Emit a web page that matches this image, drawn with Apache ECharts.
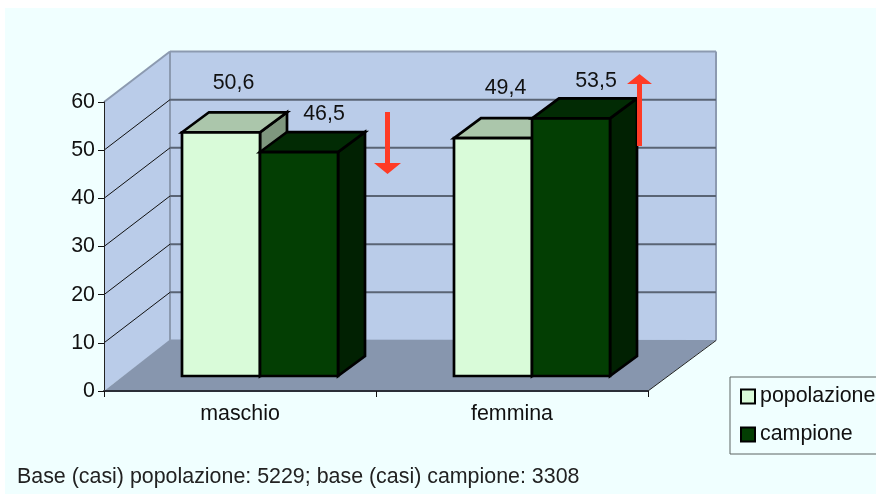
<!DOCTYPE html>
<html><head><meta charset="utf-8">
<style>html,body{margin:0;padding:0;background:#fff}#c{width:876px;height:494px}</style>
<script src="https://cdn.jsdelivr.net/npm/echarts@6/dist/echarts.min.js"></script>
</head><body><div id="c"></div>
<script>
const categories = ['maschio', 'femmina'];
const popolazione = [50.6, 49.4];
const campione = [46.5, 53.5];
const yTicks = [0, 10, 20, 30, 40, 50, 60];
const footnote = 'Base (casi) popolazione: 5229; base (casi) campione: 3308';

const FONT = '"Liberation Sans", Arial, sans-serif';
const FS = 21.4;
const DEPTH = [66, -50.5];    // full depth of the 3D box
const BACK_EXTRA = 2;         // back wall is slightly wider than the axis
const FRONT = [20, -15];      // offset of bars' front from the axis plane
const BAR_D = [27, -20];      // bar depth
const BAR_W = 78;

function poly(points, fill, stroke, lw) {
  return {type: 'polygon', shape: {points}, style: {fill: fill, stroke: stroke || null, lineWidth: lw || 0, lineJoin: 'miter'}};
}
function line(a, b, stroke, lw) {
  return {type: 'line', shape: {x1: a[0], y1: a[1], x2: b[0], y2: b[1]}, style: {stroke, lineWidth: lw}};
}

function renderWalls(params, api) {
  const val = api.value(0);
  const cs = params.coordSys;
  const x0 = cs.x, x1 = cs.x + cs.width;
  const xb = x1 + DEPTH[0] + BACK_EXTRA;
  const yv = api.coord([0, val])[1];
  const dx = DEPTH[0], dy = DEPTH[1];
  const kids = [];
  if (val === 0) {
    const yt = cs.y;
    kids.push(poly([[x0, yv], [x0, yt], [x0 + dx, yt + dy], [x0 + dx, yv + dy]], '#bacce9'));
    kids.push(poly([[x0 + dx, yt + dy], [xb, yt + dy], [xb, yv + dy], [x0 + dx, yv + dy]], '#bacce9'));
    kids.push(poly([[x0, yv], [x1, yv], [xb, yv + dy - 0.5], [x0 + dx, yv + dy - 1]], '#8796ae'));
    kids.push(line([x0 + dx, yt + dy], [x0 + dx, yv + dy], '#8c9ab0', 2));
    kids.push(line([x0 + dx, yt + dy], [xb, yt + dy], '#8c9ab0', 2));
    kids.push(line([xb, yt + dy], [xb, yv + dy], '#8c9ab0', 2));
    kids.push(line([x0, yt], [x0 + dx, yt + dy], '#8c9ab0', 2));
    kids.push(line([x1, yv], [xb, yv + dy], '#222', 1));
  } else if (val < 60) {
    kids.push(line([x0, yv], [x0 + dx, yv + dy], '#111', 1));
    kids.push(line([x0 + dx, yv + dy], [xb, yv + dy], '#5a6474', 2));
  }
  return {type: 'group', children: kids};
}

function renderBar(shift, faces, labelOff) {
  return function (params, api) {
    const c = api.value(0), v = api.value(1);
    const base = api.coord([c, 0]);
    const top = api.coord([c, v]);
    const l = base[0] + FRONT[0] + shift * BAR_W;
    const r = l + BAR_W;
    const b = base[1] + FRONT[1];
    const t = top[1] + FRONT[1];
    const dx = BAR_D[0], dy = BAR_D[1];
    const lw = 2.7;
    return {type: 'group', children: [
      poly([[r, b], [r + dx, b + dy], [r + dx, t + dy], [r, t]], faces.side, '#000', lw),
      poly([[l, t], [r, t], [r + dx, t + dy], [l + dx, t + dy]], faces.top, '#000', lw),
      poly([[l, t], [r, t], [r, b], [l, b]], faces.front, '#000', lw),
      {type: 'text', x: (l + r) / 2 + labelOff[0], y: t + labelOff[1],
       style: {text: String(v).replace('.', ','), fill: '#111', font: FS + 'px ' + FONT, textAlign: 'center', textVerticalAlign: 'middle'}}
    ]};
  };
}

const chart = echarts.init(document.getElementById('c'), null, {renderer: 'canvas'});
const lightFaces = {front: '#d9fbd9', top: '#abc6ab', side: '#7e967e'};
const darkFaces = {front: '#033e03', top: '#022b04', side: '#012102'};

chart.setOption({
  animation: false,
  backgroundColor: '#fff',
  title: {text: footnote, left: 17, top: 467, padding: 0,
    textStyle: {fontFamily: FONT, fontSize: FS, fontWeight: 'normal', color: '#222'}},
  legend: {
    left: 730, top: 377, orient: 'vertical', padding: [9, 10, 9, 10], itemGap: 17,
    itemWidth: 14, itemHeight: 14, icon: 'rect',
    backgroundColor: '#f0ffff', borderColor: '#5c6462', borderWidth: 1, borderRadius: 0,
    textStyle: {fontFamily: FONT, fontSize: FS, color: '#111'},
    data: ['popolazione', 'campione']
  },
  grid: {left: 104, top: 102, width: 544, height: 289, containLabel: false},
  xAxis: {
    type: 'category', data: categories, z: 5,
    axisLine: {lineStyle: {color: '#2b2f38', width: 2}},
    axisTick: {show: true, length: 6, lineStyle: {color: '#111', width: 1}},
    axisLabel: {fontFamily: FONT, fontSize: FS, color: '#111', margin: 13},
    splitLine: {show: false}
  },
  yAxis: {
    type: 'value', min: 0, max: 60, interval: 10, z: 5,
    axisLine: {show: true, lineStyle: {color: '#222', width: 1}},
    axisTick: {show: true, length: 6, lineStyle: {color: '#111', width: 1}},
    axisLabel: {fontFamily: FONT, fontSize: FS, color: '#111', margin: 9},
    splitLine: {show: false}
  },
  graphic: [
    {type: 'rect', z: -10, silent: true, shape: {x: 5, y: 8, width: 871, height: 486}, style: {fill: '#f0ffff'}},
    {type: 'polygon', z: 50, shape: {points: [[385, 112], [390, 112], [390, 163], [401, 163], [387.5, 174], [374, 163], [385, 163]]}, style: {fill: '#ff3b26'}},
    {type: 'polygon', z: 50, shape: {points: [[637, 146], [642, 146], [642, 84], [652, 84], [639.5, 74], [627, 84], [637, 84]]}, style: {fill: '#ff3b26'}}
  ],
  series: [
    {type: 'custom', name: 'walls', coordinateSystem: 'cartesian2d', silent: true, z: 1,
     data: yTicks.map(v => [v]), encode: {y: 0}, renderItem: renderWalls, clip: false},
    {type: 'custom', name: 'popolazione', coordinateSystem: 'cartesian2d', z: 2, clip: false,
     itemStyle: {color: lightFaces.front, borderColor: '#000', borderWidth: 2.5},
     data: popolazione.map((v, i) => [i, v]), encode: {x: 0, y: 1},
     renderItem: renderBar(-1, lightFaces, [12.5, -49.5])},
    {type: 'custom', name: 'campione', coordinateSystem: 'cartesian2d', z: 3, clip: false,
     itemStyle: {color: darkFaces.front, borderColor: '#000', borderWidth: 2.5},
     data: campione.map((v, i) => [i, v]), encode: {x: 0, y: 1},
     renderItem: renderBar(0, darkFaces, [25, -37.5])}
  ]
});
</script></body></html>
